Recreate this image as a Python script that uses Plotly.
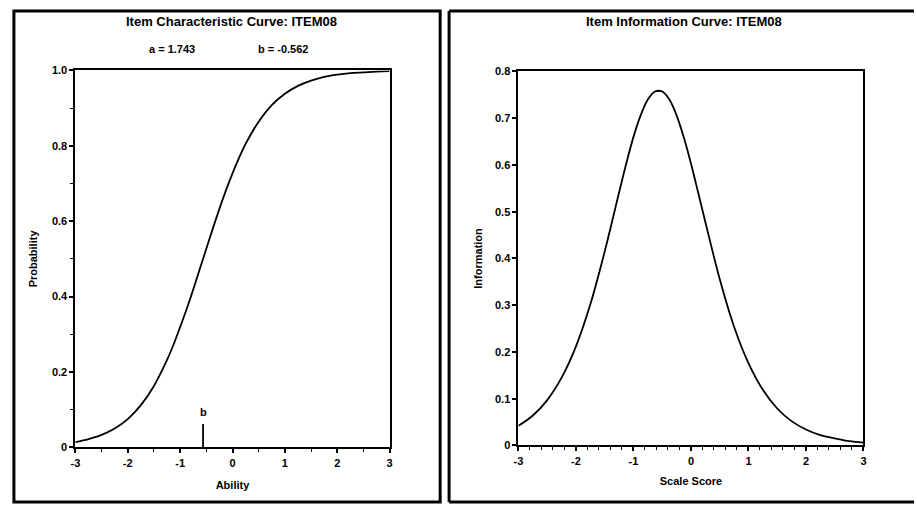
import plotly.graph_objects as go

# Item parameters printed on the ICC panel
A_PARAM = 1.743
B_PARAM = -0.562

# Ability / scale-score grid (finer around the centre of the curves)
theta = [-3.0, -2.75, -2.5, -2.25, -2.0, -1.75, -1.5, -1.25,
         -1.125, -1.0, -0.875, -0.75, -0.625, -0.5, -0.375, -0.25, -0.125,
         0.0, 0.125, 0.25, 0.5, 0.75, 1.0, 1.25, 1.5, 1.75,
         2.0, 2.25, 2.5, 2.75, 3.0]

# Probability of a correct response (item characteristic curve)
prob = [0.014, 0.022, 0.033, 0.050, 0.075, 0.112, 0.163, 0.232,
        0.273, 0.319, 0.367, 0.419, 0.473, 0.527, 0.581, 0.633, 0.682,
        0.727, 0.768, 0.805, 0.864, 0.908, 0.938, 0.959, 0.973, 0.983,
        0.989, 0.993, 0.995, 0.997, 0.998]

# Item information
info = [0.042, 0.064, 0.097, 0.145, 0.212, 0.302, 0.415, 0.541,
        0.603, 0.660, 0.706, 0.740, 0.757, 0.757, 0.740, 0.706, 0.659,
        0.603, 0.541, 0.478, 0.356, 0.254, 0.176, 0.119, 0.079, 0.052,
        0.034, 0.022, 0.015, 0.009, 0.006]

# Axis ticks
x_ticks = [-3, -2, -1, 0, 1, 2, 3]
x_ticktext = ["-3", "-2", "-1", "0", "1", "2", "3"]
prob_ticks = [0, 0.2, 0.4, 0.6, 0.8, 1.0]
prob_ticktext = ["0", "0.2", "0.4", "0.6", "0.8", "1.0"]
info_ticks = [0, 0.1, 0.2, 0.3, 0.4, 0.5, 0.6, 0.7, 0.8]
info_ticktext = ["0", "0.1", "0.2", "0.3", "0.4", "0.5", "0.6", "0.7", "0.8"]

W, H = 917, 511
FONT = "Liberation Sans"
tick_font = dict(family=FONT, size=11, color="black", weight="bold")
title_font = dict(family=FONT, size=13, color="black", weight="bold")
label_font = dict(family=FONT, size=11, color="black", weight="bold")


def px(x):
    return x / W


def py(y):
    return 1 - y / H


fig = go.Figure()

fig.add_trace(go.Scatter(x=theta, y=prob, mode="lines", line_shape="spline",
                         line=dict(color="black", width=1.8),
                         xaxis="x", yaxis="y", showlegend=False))

# location marker for the difficulty parameter
fig.add_trace(go.Scatter(x=[B_PARAM, B_PARAM], y=[0, 0.062], mode="lines",
                         line=dict(color="black", width=1.8),
                         xaxis="x", yaxis="y", showlegend=False))

fig.add_trace(go.Scatter(x=theta, y=info, mode="lines", line_shape="spline",
                         line=dict(color="black", width=1.8),
                         xaxis="x2", yaxis="y2", showlegend=False))

common_axis = dict(showgrid=False, zeroline=False, showline=True,
                   linecolor="black", linewidth=2, mirror=True,
                   ticks="outside", ticklen=4, tickwidth=1.5,
                   tickcolor="black", tickfont=tick_font, fixedrange=True)

fig.update_layout(
    width=W, height=H,
    margin=dict(l=0, r=0, t=0, b=0),
    paper_bgcolor="white", plot_bgcolor="white",
    xaxis=dict(common_axis, domain=[px(71), px(388)], range=[-3, 3],
               tickvals=x_ticks, ticktext=x_ticktext, anchor="y",
               minor=dict(dtick=0.5, ticks="outside", ticklen=3,
                          tickcolor="black", tickwidth=1),
               title=dict(text="Ability", font=label_font, standoff=14)),
    yaxis=dict(common_axis, domain=[py(452), py(66)], range=[0, 1],
               tickvals=prob_ticks, ticktext=prob_ticktext, anchor="x",
               minor=dict(dtick=0.1, ticks="outside", ticklen=3,
                          tickcolor="black", tickwidth=1),
               title=dict(text="Probability", font=label_font, standoff=12)),
    xaxis2=dict(common_axis, domain=[px(518), px(866)], range=[-3, 3],
                tickvals=x_ticks, ticktext=x_ticktext, anchor="y2",
                minor=dict(dtick=0.2, ticks="outside", ticklen=3,
                           tickcolor="black", tickwidth=1),
                title=dict(text="Scale Score", font=label_font, standoff=12)),
    yaxis2=dict(common_axis, domain=[py(450), py(67)], range=[0, 0.8],
                tickvals=info_ticks, ticktext=info_ticktext, anchor="x2",
                title=dict(text="Information", font=label_font, standoff=10)),
)

annotations = [
    dict(text="Item Characteristic Curve: ITEM08", x=px(228), y=py(16),
         font=title_font),
    dict(text="a = %.3f" % A_PARAM, x=px(168), y=py(44), font=label_font),
    dict(text="b = %.3f" % B_PARAM, x=px(280), y=py(44), font=label_font),
    dict(text="Item Information Curve: ITEM08", x=px(685), y=py(16),
         font=title_font),
]
for a in annotations:
    fig.add_annotation(xref="paper", yref="paper", showarrow=False,
                       xanchor="center", yanchor="middle", **a)

fig.add_annotation(text="b", x=B_PARAM, y=0.095, xref="x", yref="y",
                   showarrow=False, font=label_font, yanchor="middle")

# panel frames
border = dict(color="black", width=3)
fig.add_shape(type="rect", xref="paper", yref="paper",
              x0=px(9), x1=px(439), y0=py(508), y1=py(5), line=border)
fig.add_shape(type="line", xref="paper", yref="paper",
              x0=px(448), x1=px(448), y0=py(508), y1=py(5), line=border)
fig.add_shape(type="line", xref="paper", yref="paper",
              x0=px(448), x1=1, y0=py(5), y1=py(5), line=border)
fig.add_shape(type="line", xref="paper", yref="paper",
              x0=px(448), x1=1, y0=py(508), y1=py(508), line=border)

fig.write_html("out.html")
